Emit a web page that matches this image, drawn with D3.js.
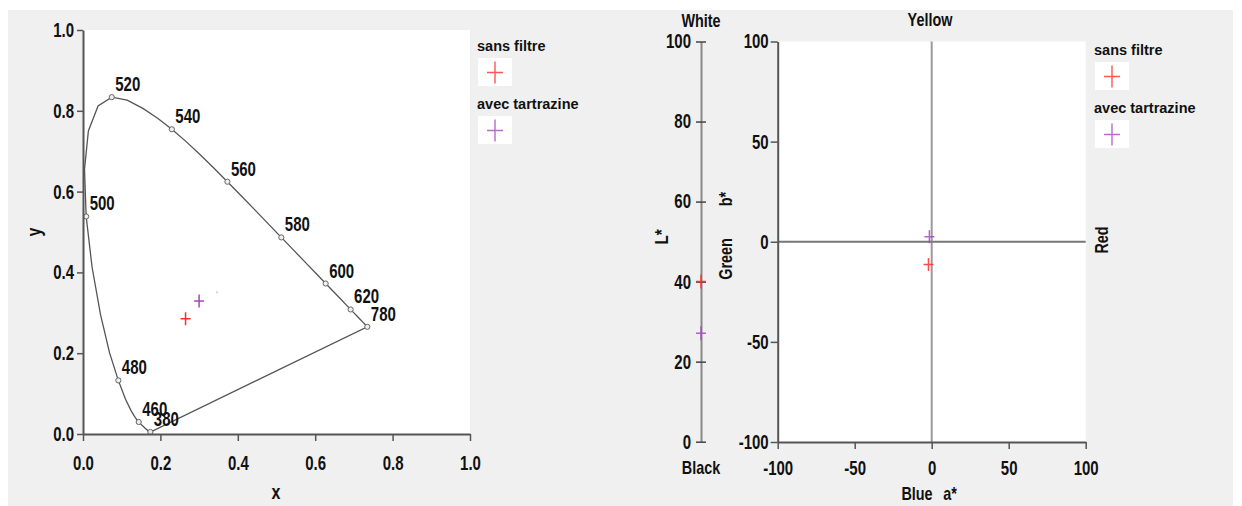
<!DOCTYPE html>
<html><head><meta charset="utf-8">
<script src="https://cdn.jsdelivr.net/npm/d3@7"></script>
<style>
html,body{margin:0;padding:0;background:#fff;}
svg{display:block;}
</style></head><body>
<svg id="chart" width="1242" height="506"></svg>
<script>
// ---------- DATA ----------
const wavelengths = [380,385,390,395,400,405,410,415,420,425,430,435,440,445,450,455,460,465,470,475,480,485,490,495,500,505,510,515,520,525,530,535,540,545,550,555,560,565,570,575,580,585,590,595,600,605,610,615,620,625,630,635,640,645,650,655,660,665,670,675,680,685,690,695,700,780];
const locusX = [.1741,.1740,.1738,.1736,.1733,.1730,.1726,.1721,.1714,.1703,.1689,.1669,.1644,.1611,.1566,.1510,.1440,.1355,.1241,.1096,.0913,.0687,.0454,.0235,.0082,.0039,.0139,.0389,.0743,.1142,.1547,.1929,.2296,.2658,.3016,.3373,.3731,.4087,.4441,.4788,.5125,.5448,.5752,.6029,.6270,.6482,.6658,.6801,.6915,.7006,.7079,.7140,.7190,.7230,.7260,.7283,.7300,.7311,.7320,.7327,.7334,.7340,.7344,.7346,.7347,.7347];
const locusY = [.0050,.0050,.0049,.0049,.0048,.0048,.0048,.0048,.0051,.0058,.0069,.0086,.0109,.0138,.0177,.0227,.0297,.0399,.0578,.0868,.1327,.2007,.2950,.4127,.5384,.6548,.7502,.8120,.8338,.8262,.8059,.7816,.7543,.7243,.6923,.6589,.6245,.5896,.5547,.5202,.4866,.4544,.4242,.3965,.3725,.3514,.3340,.3197,.3083,.2993,.2920,.2859,.2809,.2770,.2740,.2717,.2700,.2689,.2680,.2673,.2666,.2660,.2656,.2654,.2653,.2653];
const labeledWavelengths = [380,460,480,500,520,540,560,580,600,620,780];

const seriesNames = ["sans filtre","avec tartrazine"];
const seriesColors = ["#ff2b2b","#a646bf"];
const cieX = [0.265, 0.300];
const cieY = [0.285, 0.329];
const Lstar = [40.0, 27.1];
const aStar = [-2.1, -1.5];
const bStar = [-11.3, 2.5];
const whitePoint = [0.346, 0.351];

const cieTicks = [0,0.2,0.4,0.6,0.8,1.0];
const LTicks = [0,20,40,60,80,100];
const abTicks = [-100,-50,0,50,100];

// ---------- SETUP ----------
const svg = d3.select("#chart");
const FONT = "'Liberation Sans',Arial,sans-serif";
const LEGFONT = "'Liberation Sans',Arial,sans-serif";
const TICKSIZE = 20, SQ = 0.75;

function squeeze(sel, k){
  sel.each(function(){
    const t=d3.select(this); const x=+t.attr("x")||0;
    t.attr("transform",`translate(${x},0) scale(${k},1) translate(${-x},0)`);
  });
}
function styleAxis(g, lineColor){
  g.selectAll("path.domain").attr("stroke",lineColor).attr("stroke-width",2);
  g.selectAll(".tick line").attr("stroke",lineColor).attr("stroke-width",1.5);
  g.selectAll("text").attr("font-family",FONT).attr("font-weight","bold")
    .attr("font-size",TICKSIZE).attr("fill","#111");
}
function plusPath(x,y,hw,hh){ return `M${x-hw},${y}H${x+hw}M${x},${y-hh}V${y+hh}`; }
const plain = d => String(d);

svg.append("rect").attr("x",8).attr("y",10).attr("width",1225).attr("height",496).attr("fill","#f0f0f0");

// ---------- LEFT: CIE xy ----------
const xC = d3.scaleLinear([0,1],[83,470]);
const yC = d3.scaleLinear([0,1],[434,30]);
svg.append("rect").attr("x",xC(0)).attr("y",yC(1)).attr("width",xC(1)-xC(0)).attr("height",yC(0)-yC(1)).attr("fill","#fff");

const locus = wavelengths.map((w,i)=>({w,x:locusX[i],y:locusY[i]}));
svg.append("path").datum(locus)
  .attr("d", d3.line().x(d=>xC(d.x)).y(d=>yC(d.y)).curve(d3.curveLinearClosed))
  .attr("fill","none").attr("stroke","#555").attr("stroke-width",1.3);
const marks = locus.filter(d=>labeledWavelengths.includes(d.w));
svg.append("g").selectAll("circle").data(marks).join("circle")
  .attr("cx",d=>xC(d.x)).attr("cy",d=>yC(d.y)).attr("r",2.6)
  .attr("fill","#eee").attr("stroke","#666").attr("stroke-width",1);
const wl = svg.append("g").selectAll("text").data(marks).join("text")
  .attr("x",d=>xC(d.x)+3.5).attr("y",d=>yC(d.y)-6)
  .attr("font-family",FONT).attr("font-weight","bold").attr("font-size",TICKSIZE).attr("fill","#111")
  .text(d=>d.w);
squeeze(wl, SQ);

svg.append("circle").attr("cx",xC(whitePoint[0])).attr("cy",yC(whitePoint[1])).attr("r",1).attr("fill","#ccc");

const gxl = svg.append("g").attr("transform",`translate(0,${yC(0)})`)
  .call(d3.axisBottom(xC).tickValues(cieTicks).tickFormat(d3.format(".1f")).tickSize(7).tickSizeOuter(0));
styleAxis(gxl,"#555");
gxl.selectAll("text").attr("y",36.5).attr("dy",0);
squeeze(gxl.selectAll("text"),SQ);
const gyl = svg.append("g").attr("transform",`translate(${xC(0)},0)`)
  .call(d3.axisLeft(yC).tickValues(cieTicks).tickFormat(d3.format(".1f")).tickSize(6).tickPadding(3).tickSizeOuter(0));
styleAxis(gyl,"#555");
squeeze(gyl.selectAll("text"),SQ);

function label(x,y,txt,rot,size){
  return svg.append("text").attr("font-family",FONT).attr("font-weight","bold")
    .attr("font-size",size||18).attr("fill","#111").attr("text-anchor","middle")
    .attr("transform",`translate(${x},${y}) rotate(${rot||0}) scale(0.8,1)`).text(txt);
}
label(276,499,"x",0,20);
label(41,232,"y",-90,20);

seriesNames.forEach((n,i)=>{
  svg.append("path").attr("d",plusPath(xC(cieX[i]),yC(cieY[i]),5,6.5))
    .attr("stroke",seriesColors[i]).attr("stroke-width",1.5).attr("fill","none");
});

// ---------- legends ----------
function legend(x0,y0){
  seriesNames.forEach((n,i)=>{
    const yy = y0 + i*58;
    svg.append("text").attr("x",x0).attr("y",yy).attr("font-family",LEGFONT).attr("font-weight","bold")
      .attr("font-size",14.5).attr("fill","#111").text(n);
    svg.append("rect").attr("x",x0+1).attr("y",yy+7).attr("width",34).attr("height",28).attr("fill","#fff");
    svg.append("path").attr("d",plusPath(x0+18,yy+21.5,8,11))
      .attr("stroke",seriesColors[i]).attr("stroke-width",1.4).attr("fill","none").attr("opacity",0.8);
  });
}
legend(477,51);
legend(1094,55);

// ---------- MIDDLE: L* ----------
const lS = d3.scaleLinear([0,100],[441.7,41.5]);
const gL = svg.append("g").attr("transform",`translate(701,0)`)
  .call(d3.axisLeft(lS).tickValues(LTicks).tickFormat(plain).tickSize(5).tickPadding(5).tickSizeOuter(0));
styleAxis(gL,"#888");
gL.selectAll(".tick line").attr("x2",5).attr("x1",-5).attr("stroke","#444");
squeeze(gL.selectAll("text"),SQ);
label(701,26.5,"White");
label(701,474,"Black");
label(668,237,"L*",-90,19);
seriesNames.forEach((n,i)=>{
  svg.append("path").attr("d",plusPath(701,lS(Lstar[i]),5,7))
    .attr("stroke",seriesColors[i]).attr("stroke-width",1.5).attr("fill","none").attr("opacity",0.85);
});

// ---------- RIGHT: a* b* ----------
const aS = d3.scaleLinear([-100,100],[777.7,1085.7]);
const bS = d3.scaleLinear([-100,100],[442,41.5]);
svg.append("rect").attr("x",aS(-100)).attr("y",bS(100)).attr("width",aS(100)-aS(-100)).attr("height",bS(-100)-bS(100)).attr("fill","#fff");
svg.append("line").attr("x1",aS(0)).attr("x2",aS(0)).attr("y1",bS(100)).attr("y2",bS(-100)).attr("stroke","#9a9a9a").attr("stroke-width",2);
svg.append("line").attr("x1",aS(-100)).attr("x2",aS(100)).attr("y1",bS(0)).attr("y2",bS(0)).attr("stroke","#777").attr("stroke-width",2);
const ga = svg.append("g").attr("transform",`translate(0,${bS(-100)})`)
  .call(d3.axisBottom(aS).tickValues(abTicks).tickFormat(plain).tickSize(7).tickSizeOuter(0));
styleAxis(ga,"#555");
ga.selectAll("text").attr("y",33).attr("dy",0);
squeeze(ga.selectAll("text"),SQ);
const gb = svg.append("g").attr("transform",`translate(${aS(-100)},0)`)
  .call(d3.axisLeft(bS).tickValues(abTicks).tickFormat(plain).tickSize(7).tickPadding(2).tickSizeOuter(0));
styleAxis(gb,"#555");
squeeze(gb.selectAll("text"),SQ);
label(930,26,"Yellow");
label(917,500,"Blue");
label(950,500,"a*");
label(732,259,"Green",-90);
label(732,199,"b*",-90);
label(1108,240,"Red",-90);
seriesNames.forEach((n,i)=>{
  svg.append("path").attr("d",plusPath(aS(aStar[i]),bS(bStar[i]),5,6.5))
    .attr("stroke",seriesColors[i]).attr("stroke-width",1.5).attr("fill","none").attr("opacity",0.85);
});
</script>
</body></html>
